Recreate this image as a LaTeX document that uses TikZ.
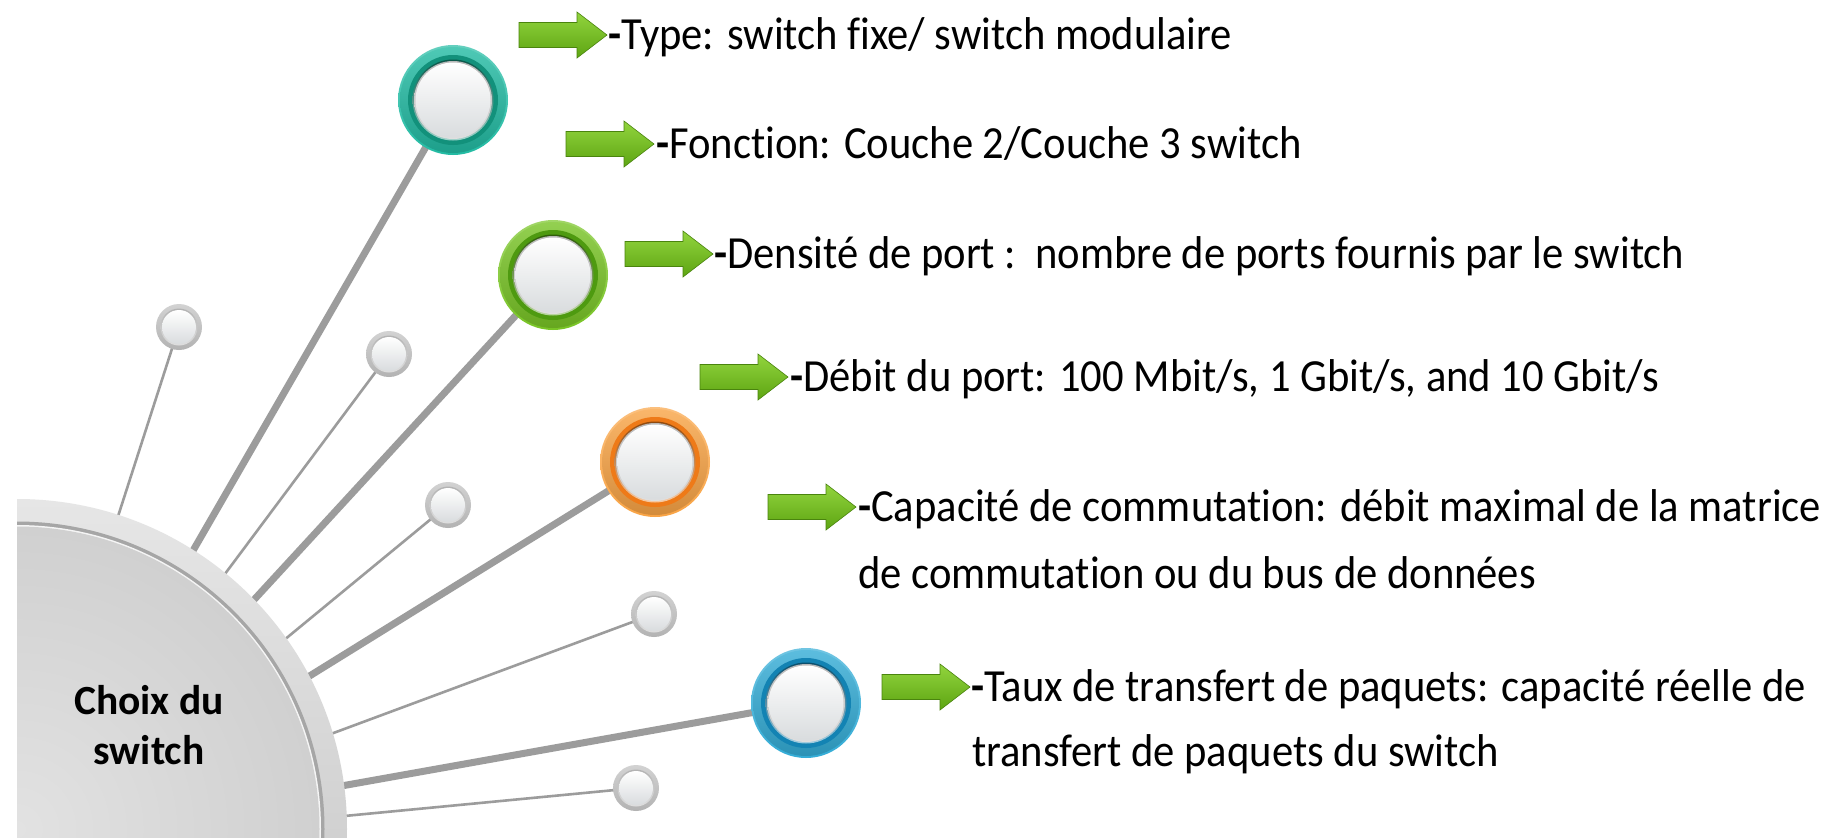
\documentclass[tikz,border=0pt]{standalone}
\usepackage{fontspec}
\setmainfont{Carlito}[Ligatures=NoCommon]
\definecolor{linegray}{HTML}{9C9C9C}
\definecolor{tealA}{HTML}{22BBA3}\definecolor{tealB}{HTML}{12917B}
\definecolor{grnA}{HTML}{78C425}\definecolor{grnB}{HTML}{4E9A10}
\definecolor{orgA}{HTML}{F9A445}\definecolor{orgB}{HTML}{EE7A18}
\definecolor{bluA}{HTML}{33ACD6}\definecolor{bluB}{HTML}{1383B3}
\definecolor{arwA}{HTML}{92D43E}\definecolor{arwB}{HTML}{5DA512}
\definecolor{discA}{HTML}{E2E2E2}\definecolor{discB}{HTML}{D0D0D0}
\definecolor{rimA}{HTML}{E6E6E6}\definecolor{rimB}{HTML}{BDBDBD}
\definecolor{rimline}{HTML}{A6A6A6}
\definecolor{pearlA}{HTML}{FFFFFF}\definecolor{pearlB}{HTML}{D9DCDE}
\newcommand\mkring[3]{%
  \shade[top color=#2!70!white, bottom color=#2] (#1) circle (55);
  \shade[top color=#2!80!white, bottom color=#2!85!black] (#1) circle (53);
  \fill[#3] (#1) circle (45);
  \shade[top color=#3!60!black, bottom color=#3!40!white] (#1) circle (40.5);
  \shade[top color=gray!55, bottom color=gray!25] (#1) circle (39);
  \shade[top color=pearlA, bottom color=pearlB] (#1) circle (37.5);
}
\newcommand\mkpearl[1]{%
  \shade[top color=gray!35, bottom color=gray!60] (#1) circle (23);
  \shade[top color=gray!60, bottom color=gray!25] (#1) circle (18.5);
  \shade[top color=pearlA, bottom color=pearlB] (#1) circle (17);
}
\newcommand\tl[1]{\scalebox{1}[1.08]{#1}}
\tikzset{
  thickline/.style={draw=linegray, line width=7pt},
  thinline/.style={draw=linegray, line width=2.6pt},
  txt/.style={anchor=base west, inner sep=0pt, font=\fontsize{42.6}{50}\selectfont},
  pics/garrow/.style={code={
    \shade[top color=arwA, bottom color=arwB, draw=arwB!80!black, line width=0.6pt]
      (-88,-12.5) -- (-30,-12.5) -- (-30,-23) -- (0,0) -- (-30,23) -- (-30,12.5) -- (-88,12.5) -- cycle;}}
}
\begin{document}
\begin{tikzpicture}[x=1pt,y=-1pt]
\useasboundingbox[fill=white] (0,0) rectangle (1826,838);
% centres
\coordinate (bc) at (17,829);
\coordinate (rT) at (453,100);
\coordinate (rG) at (553,275);
\coordinate (rO) at (655,462);
\coordinate (rB) at (806,703);
\coordinate (pA) at (179,327);
\coordinate (pB) at (389,354);
\coordinate (pC) at (448,505);
\coordinate (pD) at (654,614);
\coordinate (pE) at (636,788);
% rim ends
\coordinate (eA) at (112,535);
\coordinate (eT) at (183,568);
\coordinate (eB) at (213,590);
\coordinate (eG) at (240,615);
\coordinate (eC) at (272,650);
\coordinate (eO) at (295,685);
\coordinate (eD) at (320,738);
\coordinate (eBl) at (330,788);
\coordinate (eE) at (334,817);
% connectors
\draw[thinline] (pA) -- (eA);
\draw[thinline] (pB) -- (eB);
\draw[thinline] (pC) -- (eC);
\draw[thinline] (pD) -- (eD);
\draw[thinline] (pE) -- (eE);
\draw[thickline] (rT) -- (eT);
\draw[thickline] (rG) -- (eG);
\draw[thickline] (rO) -- (eO);
\draw[thickline] (rB) -- (eBl);
% hub disc
\begin{scope}
\clip (17,0) rectangle (1826,838);
\shade[top color=rimA, bottom color=rimB] (bc) circle (330);
\fill[rimline] (bc) circle (307.5);
\fill[white!92!gray] (bc) circle (304);
\shade[inner color=discA, outer color=discB] (bc) circle (302.5);
\end{scope}
\node[font=\fontsize{41.5}{50}\bfseries\selectfont, align=center, inner sep=0pt] (hub) at (149,725) {Choix du\\switch};
% rings and pearls
\mkring{rT}{tealA}{tealB}
\mkring{rG}{grnA}{grnB}
\mkring{rO}{orgA}{orgB}
\mkring{rB}{bluA}{bluB}
\mkpearl{pA}\mkpearl{pB}\mkpearl{pC}\mkpearl{pD}\mkpearl{pE}
% arrows
\coordinate (a1) at (607,35);
\coordinate (a2) at (654,144);
\coordinate (a3) at (713,254);
\coordinate (a4) at (788,377);
\coordinate (a5) at (856,507);
\coordinate (a6) at (970,687);
\pic at (a1) {garrow};
\pic at (a2) {garrow};
\pic at (a3) {garrow};
\pic at (a4) {garrow};
\pic at (a5) {garrow};
\pic at (a6) {garrow};
% texts
\node[txt] (t1) at (608,49) {\tl{{\bfseries -}Type: switch fixe/ switch modulaire}};
\node[txt] (t2) at (656,158) {\tl{{\bfseries -}Fonction: Couche 2/Couche 3 switch}};
\node[txt] (t3) at (714,268) {\tl{{\bfseries -}Densité de port :\ \ nombre de ports fournis par le switch}};
\node[txt] (t4) at (790,391) {\tl{{\bfseries -}Débit du port: 100 Mbit/s, 1 Gbit/s, and 10 Gbit/s}};
\node[txt] (t5) at (858,521) {\tl{{\bfseries -}Capacité de commutation: débit maximal de la matrice}};
\node[txt] (t5b) at (858,588) {\tl{de commutation ou du bus de données}};
\node[txt] (t6) at (971,701) {\tl{{\bfseries -}Taux de transfert de paquets: capacité réelle de}};
\node[txt] (t6b) at (972,766) {\tl{transfert de paquets du switch}};
\end{tikzpicture}
\end{document}
